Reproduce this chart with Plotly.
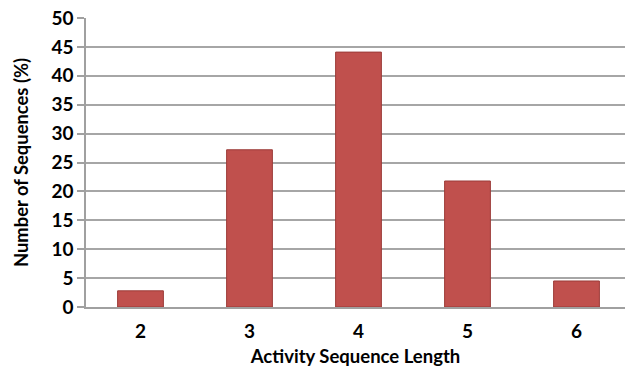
import plotly.graph_objects as go

categories = ["2", "3", "4", "5", "6"]
values = [2.8, 27.2, 44.1, 21.8, 4.5]
y_ticks = [0, 5, 10, 15, 20, 25, 30, 35, 40, 45, 50]

fig = go.Figure()
fig.add_trace(go.Bar(
    x=categories, y=values, width=0.42,
    marker=dict(color="#C0504D", line=dict(color="#9B3B38", width=1)),
))
font = "Lato, 'Open Sans', sans-serif"
fig.update_layout(
    width=625, height=371,
    margin=dict(l=86, r=0, t=18, b=64),
    paper_bgcolor="white", plot_bgcolor="white",
    showlegend=False,
    font=dict(family=font, color="black"),
    xaxis=dict(
        type="category", range=[-0.5, 4.445],
        showline=True, linecolor="#A0A0A0", linewidth=1.5,
        showgrid=False, ticks="outside", ticklen=6, tickcolor="rgba(0,0,0,0)",
        tickfont=dict(size=19, family=font, weight="bold"),
        title=dict(text="<b>Activity Sequence Length</b>", font=dict(size=18.5), standoff=10),
    ),
    yaxis=dict(
        range=[0, 50], tickvals=y_ticks,
        showline=True, linecolor="#A0A0A0", linewidth=1.5,
        showgrid=True, gridcolor="#A6A6A6", gridwidth=1.5,
        ticks="outside", ticklen=7, tickcolor="#A0A0A0", tickwidth=1.5,
        tickfont=dict(size=19, family=font, weight="bold"),
        title=dict(text="<b>Number of Sequences (%)</b>", font=dict(size=18.4), standoff=18),
        zeroline=False,
    ),
    bargap=0.58,
)
fig.write_html("out.html")
